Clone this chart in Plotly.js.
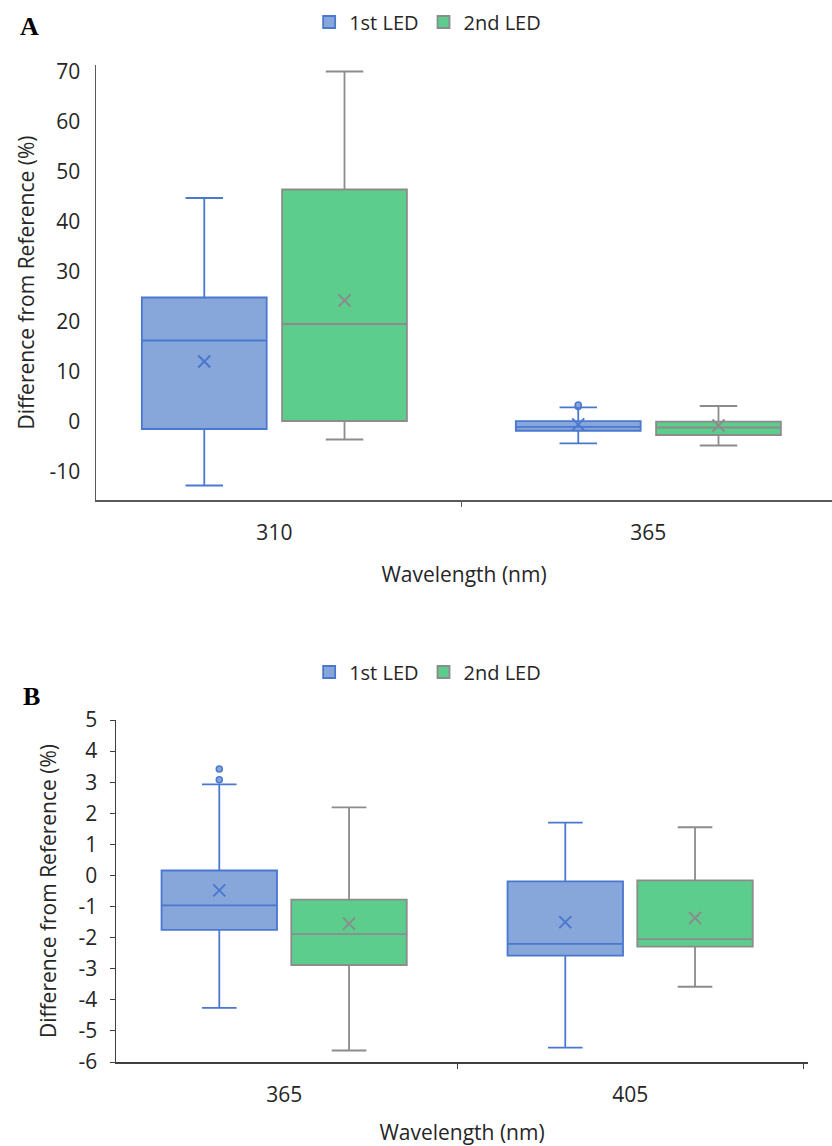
<!DOCTYPE html>
<html><head><meta charset="utf-8">
<script src="https://cdn.plot.ly/plotly-3.0.1.min.js"></script>
<style>html,body{margin:0;padding:0;background:#fff}</style>
</head><body><div id="chart" style="width:832px;height:1146px"></div>
<script>
const seriesNames = ['1st LED', '2nd LED'];

// Panel A
const catsA = ['310', '365'];
const a1Lower = [-12.7, -4.26];
const a1Q1 = [-1.4, -1.75];
const a1Median = [16.3, -0.96];
const a1Q3 = [24.9, 0.16];
const a1Upper = [44.8, 2.93];
const a1Mean = [12.1, -0.48];
const a1OutCat = ['365', '365'];
const a1OutVal = [3.08, 3.42];
const a2Lower = [-3.5, -4.7];
const a2Q1 = [0.2, -2.6];
const a2Median = [19.6, -1.1];
const a2Q3 = [46.5, 0.06];
const a2Upper = [70.1, 3.2];
const a2Mean = [24.3, -0.7];
const yTickValsA = [-10, 0, 10, 20, 30, 40, 50, 60, 70];
const yTickTextA = ['-10', '0', '10', '20', '30', '40', '50', '60', '70'];

// Panel B
const catsB = ['365', '405'];
const b1Lower = [-4.26, -5.54];
const b1Q1 = [-1.75, -2.58];
const b1Median = [-0.96, -2.20];
const b1Q3 = [0.16, -0.19];
const b1Upper = [2.93, 1.70];
const b1Mean = [-0.48, -1.50];
const b1OutCat = ['365', '365'];
const b1OutVal = [3.08, 3.42];
const b2Lower = [-5.63, -3.58];
const b2Q1 = [-2.88, -2.29];
const b2Median = [-1.89, -2.05];
const b2Q3 = [-0.78, -0.16];
const b2Upper = [2.19, 1.55];
const b2Mean = [-1.55, -1.37];
const yTickValsB = [-6, -5, -4, -3, -2, -1, 0, 1, 2, 3, 4, 5];
const yTickTextB = ['-6', '-5', '-4', '-3', '-2', '-1', '0', '1', '2', '3', '4', '5'];

const BLUE_LINE = '#4A78D0';
const BLUE_FILL = '#87A6DA';
const GREEN_FILL = '#5CCD8C';
const GRAY_LINE = '#8C8C8C';
const FONT = '"Open Sans", Lato, sans-serif';
const TXT = '#262626';

function boxTrace(name, cats, lo, q1, med, q3, up, lineC, fillC, xa, ya, leg, grp, show) {
  return {
    type: 'box', name: name, x: cats, lowerfence: lo, q1: q1, median: med, q3: q3, upperfence: up,
    boxpoints: false, xaxis: xa, yaxis: ya, legend: leg, offsetgroup: grp, alignmentgroup: xa,
    line: {color: lineC, width: 1.8}, fillcolor: fillC, whiskerwidth: 0.3, showlegend: show,
    hoverinfo: 'skip'
  };
}
function meanTrace(cats, vals, color, xa, ya, grp) {
  return {
    type: 'scatter', mode: 'markers', x: cats, y: vals, xaxis: xa, yaxis: ya,
    offsetgroup: grp, alignmentgroup: xa, showlegend: false, hoverinfo: 'skip',
    marker: {symbol: 'x-thin-open', size: 12, color: color, line: {color: color, width: 2}}
  };
}
function outTrace(cats, vals, xa, ya, grp) {
  return {
    type: 'scatter', mode: 'markers', x: cats, y: vals, xaxis: xa, yaxis: ya,
    offsetgroup: grp, alignmentgroup: xa, showlegend: false, hoverinfo: 'skip',
    marker: {symbol: 'circle', size: 6, color: BLUE_FILL, line: {color: BLUE_LINE, width: 1.5}}
  };
}

const data = [
  boxTrace(seriesNames[0], catsA, a1Lower, a1Q1, a1Median, a1Q3, a1Upper, BLUE_LINE, BLUE_FILL, 'x', 'y', 'legend', 'g1', true),
  boxTrace(seriesNames[1], catsA, a2Lower, a2Q1, a2Median, a2Q3, a2Upper, GRAY_LINE, GREEN_FILL, 'x', 'y', 'legend', 'g2', true),
  meanTrace(catsA, a1Mean, BLUE_LINE, 'x', 'y', 'g1'),
  meanTrace(catsA, a2Mean, GRAY_LINE, 'x', 'y', 'g2'),
  outTrace(a1OutCat, a1OutVal, 'x', 'y', 'g1'),
  boxTrace(seriesNames[0], catsB, b1Lower, b1Q1, b1Median, b1Q3, b1Upper, BLUE_LINE, BLUE_FILL, 'x2', 'y2', 'legend2', 'g1', true),
  boxTrace(seriesNames[1], catsB, b2Lower, b2Q1, b2Median, b2Q3, b2Upper, GRAY_LINE, GREEN_FILL, 'x2', 'y2', 'legend2', 'g2', true),
  meanTrace(catsB, b1Mean, BLUE_LINE, 'x2', 'y2', 'g1'),
  meanTrace(catsB, b2Mean, GRAY_LINE, 'x2', 'y2', 'g2'),
  outTrace(b1OutCat, b1OutVal, 'x2', 'y2', 'g1')
];

const H = 1146, W = 832;
const tickFont = {family: FONT, size: 21, color: TXT};
const titleFont = {family: FONT, size: 21, color: TXT};
const legendBase = {
  orientation: 'h', xanchor: 'center', yanchor: 'middle', x: 0.514,
  font: {family: FONT, size: 20, color: TXT}, itemwidth: 30, bgcolor: 'rgba(0,0,0,0)',
  itemclick: false, itemdoubleclick: false
};

const layout = {
  width: W, height: H,
  margin: {l: 0, r: 0, t: 0, b: 0},
  paper_bgcolor: '#fff', plot_bgcolor: '#fff',
  boxmode: 'group', boxgap: 0.25, boxgroupgap: 0.11,
  scattermode: 'group', scattergap: 0.25,
  showlegend: true,
  legend: Object.assign({}, legendBase, {y: 1 - 22 / H}),
  legend2: Object.assign({}, legendBase, {y: 1 - 672 / H}),
  xaxis: {
    domain: [96 / W, 1], anchor: 'y', type: 'category', range: [-0.477, 1.491],
    showline: true, linecolor: '#595959', linewidth: 1.5, tickson: 'boundaries',
    ticks: 'outside', ticklen: 5, tickcolor: '#595959', showgrid: false, zeroline: false,
    tickfont: tickFont, ticklabelstandoff: 13,
    title: {text: 'Wavelength (nm)', font: titleFont, standoff: 22}
  },
  yaxis: {
    domain: [1 - 500 / H, 1 - 65 / H], anchor: 'x', range: [-15.6, 71.4],
    tickvals: yTickValsA, ticktext: yTickTextA,
    showline: true, linecolor: '#595959', linewidth: 1.5, ticks: '', showgrid: false, zeroline: false,
    tickfont: tickFont, ticklabelstandoff: 10,
    title: {text: 'Difference from Reference (%)', font: titleFont, standoff: 9}
  },
  xaxis2: {
    domain: [116 / W, 808 / W], anchor: 'y2', type: 'category', range: [-0.486, 1.514],
    showline: true, linecolor: '#404040', linewidth: 1.5, tickson: 'boundaries',
    ticks: 'outside', ticklen: 5, tickcolor: '#404040', showgrid: false, zeroline: false,
    tickfont: tickFont, ticklabelstandoff: 13,
    title: {text: 'Wavelength (nm)', font: titleFont, standoff: 23}
  },
  yaxis2: {
    domain: [1 - 1062 / H, 1 - 720 / H], anchor: 'x2', range: [-6, 5],
    tickvals: yTickValsB, ticktext: yTickTextB,
    showline: true, linecolor: '#404040', linewidth: 1.5, ticks: 'outside', ticklen: 5,
    tickcolor: '#404040', showgrid: false, zeroline: false,
    tickfont: tickFont, ticklabelstandoff: 8,
    title: {text: 'Difference from Reference (%)', font: titleFont, standoff: 16}
  },
  annotations: [
    {text: 'A', xref: 'paper', yref: 'paper', x: 29 / W, y: 1 - 27 / H, showarrow: false,
     xanchor: 'center', yanchor: 'middle', font: {family: '"Liberation Serif", "DejaVu Serif", serif', size: 26, color: '#000', weight: 700}},
    {text: 'B', xref: 'paper', yref: 'paper', x: 31 / W, y: 1 - 696 / H, showarrow: false,
     xanchor: 'center', yanchor: 'middle', font: {family: '"Liberation Serif", "DejaVu Serif", serif', size: 26, color: '#000', weight: 700}}
  ]
};

Plotly.newPlot('chart', data, layout, {displayModeBar: false, staticPlot: true});
</script>
</body></html>
